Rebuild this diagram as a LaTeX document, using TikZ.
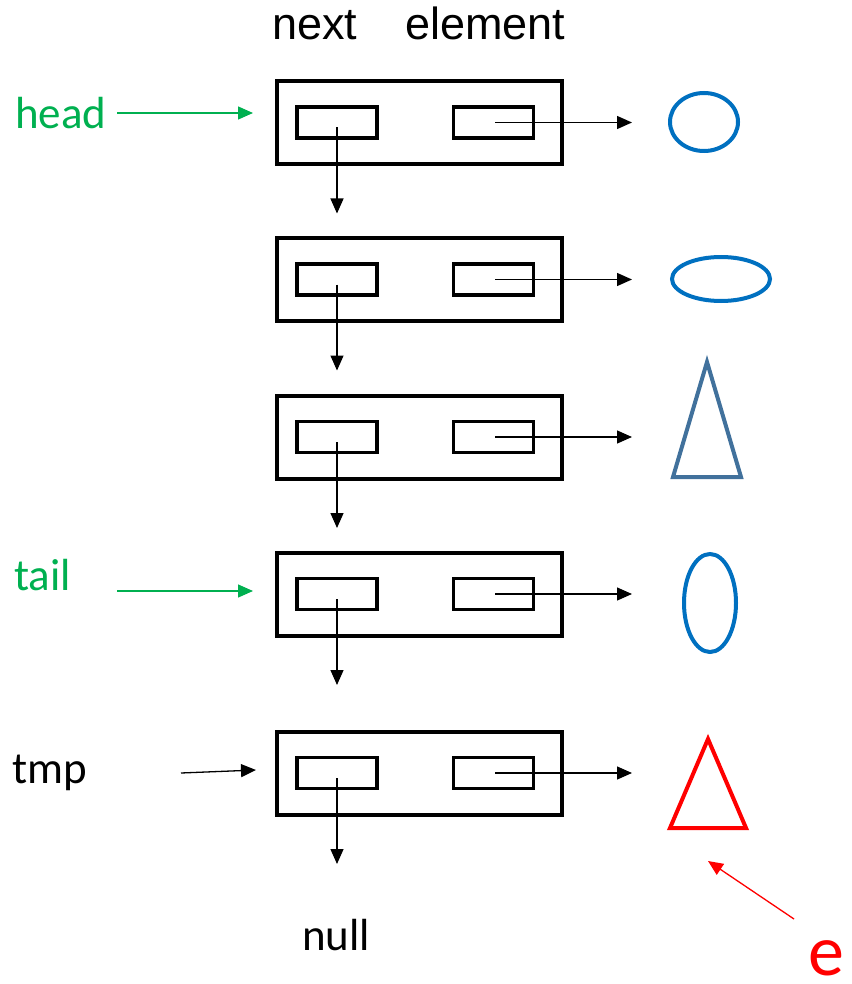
\documentclass[tikz,border=0pt]{standalone}
\usepackage{fontspec}
\setmainfont{Carlito}
\newfontfamily\arialfont{Liberation Sans}
\usetikzlibrary{arrows.meta,shapes.geometric}
\definecolor{ptrgreen}{HTML}{00B050}
\definecolor{objblue}{HTML}{0070C0}
\definecolor{objsteel}{HTML}{41719C}
\definecolor{objred}{HTML}{FF0000}
\tikzset{
  cell/.style={draw, line width=4pt, minimum width=285pt, minimum height=83pt, inner sep=0pt},
  field/.style={draw, line width=3.5pt, minimum width=80pt, minimum height=31pt, inner sep=0pt},
  link/.style={line width=1.3pt, -{Triangle[length=15pt,width=13pt]}},
  gptr/.style={link, draw=ptrgreen, fill=ptrgreen},
  obj/.style={line width=4pt, draw=objblue, ellipse, inner sep=0pt},
  lbl/.style={font=\fontsize{45}{54}\selectfont, anchor=base west, inner sep=0pt},
}
\begin{document}
\begin{tikzpicture}[x=1pt,y=-1pt]
\useasboundingbox (0,0) rectangle (851,984);

% column headings
\node[lbl, font=\arialfont\fontsize{45}{54}\selectfont] (hnext) at (272,40) {next};
\node[lbl, font=\arialfont\fontsize{45}{54}\selectfont] (helem) at (405,40) {element};

% list cells with next/element fields
\foreach \i/\y in {1/122.5, 2/279.5, 3/437, 4/594, 5/773} {
  \node[cell] (c\i) at (419.5,\y) {};
  \node[field] (n\i) at (337,\y) {};
  \node[field] (e\i) at (493.5,\y) {};
  \coordinate (d\i) at (337,\y+91);
  \coordinate (r\i) at (632,\y);
  \draw[link] ([yshift=-5pt]n\i.center) -- (d\i);
  \draw[link] ([xshift=1.5pt]e\i.center) -- (r\i);
}

% referenced objects
\node[obj, minimum width=68pt, minimum height=58pt] (o1) at (704,122) {};
\node[obj, minimum width=98pt, minimum height=44pt] (o2) at (721,279) {};
\draw[line width=4pt, draw=objsteel, miter limit=20] (707,362) -- (741,477) -- (673,477) -- cycle;
\coordinate (o3) at (707,437);
\node[obj, minimum width=52pt, minimum height=98pt] (o4) at (710,603) {};
\draw[line width=4pt, draw=objred, miter limit=20] (708,739) -- (746,828) -- (670,828) -- cycle;
\coordinate (o5) at (708,790);

% pointer variables
\node[lbl, text=ptrgreen] (head) at (15,129) {head};
\node[lbl, text=ptrgreen] (tail) at (14,590) {tail};
\node[lbl] (tmp) at (12,783) {tmp};
\node[lbl] (null) at (302,950) {null};
\node[lbl, text=objred, font=\fontsize{72}{86}\selectfont] (e) at (808,975) {e};

\coordinate (headS) at (117,113);
\coordinate (headE) at (253,113);
\coordinate (tailS) at (117,591);
\coordinate (tailE) at (253,591);
\coordinate (tmpS) at (181,773);
\coordinate (tmpE) at (256,770);
\coordinate (eS) at (794,919);
\coordinate (eE) at (708,861);

\draw[gptr] (headS) -- (headE);
\draw[gptr] (tailS) -- (tailE);
\draw[link] (tmpS) -- (tmpE);
\draw[link, draw=objred, fill=objred] (eS) -- (eE);
\end{tikzpicture}
\end{document}
